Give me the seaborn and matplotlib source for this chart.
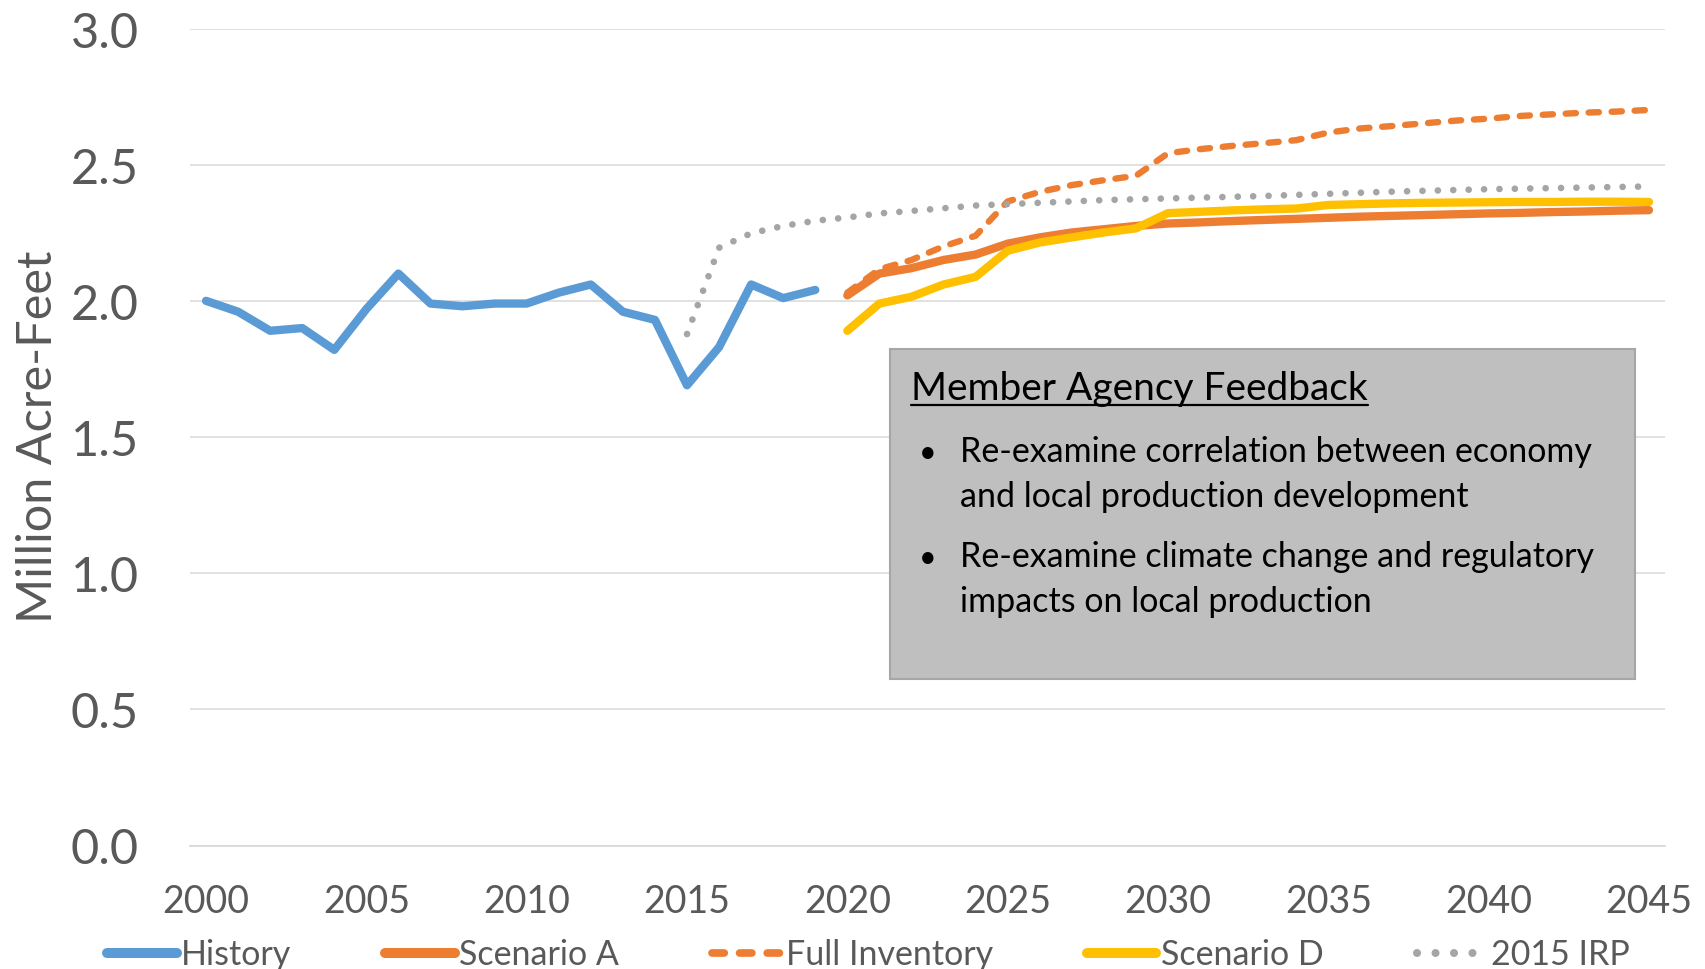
import numpy as np
import pandas as pd
import matplotlib
matplotlib.use("Agg")
import matplotlib.pyplot as plt
import seaborn as sns
from matplotlib.patches import Rectangle
from matplotlib.lines import Line2D
from matplotlib.ticker import FixedLocator, FormatStrFormatter

# --- data (million acre-feet) ---
HIST_YEARS = list(range(2000, 2020))
HISTORY = [2.00, 1.96, 1.89, 1.90, 1.82, 1.97, 2.10, 1.99, 1.98, 1.99,
           1.99, 2.03, 2.06, 1.96, 1.93, 1.69, 1.83, 2.06, 2.01, 2.04]

PROJ_YEARS = list(range(2020, 2046))
SCENARIO_A = [2.02, 2.10, 2.12, 2.15, 2.17, 2.21, 2.233, 2.251, 2.263, 2.275,
              2.284, 2.288, 2.293, 2.297, 2.301, 2.305, 2.309, 2.312, 2.315, 2.318,
              2.321, 2.323, 2.326, 2.328, 2.331, 2.333]
FULL_INVENTORY = [2.03, 2.116, 2.15, 2.20, 2.239, 2.365, 2.40, 2.425, 2.443, 2.459,
                  2.542, 2.557, 2.569, 2.579, 2.59, 2.618, 2.633, 2.642, 2.652, 2.662,
                  2.669, 2.679, 2.685, 2.691, 2.695, 2.701]
SCENARIO_D = [1.89, 1.99, 2.015, 2.06, 2.088, 2.184, 2.214, 2.233, 2.251, 2.266,
              2.322, 2.327, 2.332, 2.336, 2.339, 2.352, 2.355, 2.358, 2.36, 2.361,
              2.362, 2.363, 2.363, 2.364, 2.364, 2.363]

IRP_YEARS = list(range(2015, 2046))
IRP_2015 = [1.878, 2.195, 2.248, 2.275, 2.294, 2.306, 2.321, 2.33, 2.34, 2.35,
            2.355, 2.36, 2.365, 2.37, 2.373, 2.376, 2.379, 2.382, 2.385, 2.389,
            2.393, 2.397, 2.401, 2.404, 2.407, 2.41, 2.412, 2.414, 2.416, 2.418, 2.42]

Y_TICKS = [0.0, 0.5, 1.0, 1.5, 2.0, 2.5, 3.0]
X_TICKS = [2000, 2005, 2010, 2015, 2020, 2025, 2030, 2035, 2040, 2045]

BOX_TITLE = "Member Agency Feedback"
BOX_LINES = [
    "Re-examine correlation between economy",
    "and local production development",
    "Re-examine climate change and regulatory",
    "impacts on local production",
]

TEXT_GRAY = "#595959"
GRID_GRAY = "#D9D9D9"

sns.set_theme(style="white")
plt.rcParams["font.family"] = ["Lato", "DejaVu Sans"]

W, H = 1706, 970
fig = plt.figure(figsize=(W / 100, H / 100), dpi=100)
ax = fig.add_axes([190 / W, 123.5 / H, 1475 / W, 817 / H])

series = [
    ("History", HIST_YEARS, HISTORY, "#5B9BD5", 6.0, "-"),
    ("Scenario A", PROJ_YEARS, SCENARIO_A, "#ED7D31", 6.0, "-"),
    ("Full Inventory", PROJ_YEARS, FULL_INVENTORY, "#ED7D31", 4.6, (0, (1.6, 2.0))),
    ("Scenario D", PROJ_YEARS, SCENARIO_D, "#FFC000", 6.0, "-"),
    ("2015 IRP", IRP_YEARS, IRP_2015, "#A5A5A5", 4.8, (0, (0.01, 2.3))),
]

handles = []
for name, yrs, vals, color, lw, ls in series:
    df = pd.DataFrame({"year": yrs, "value": vals})
    sns.lineplot(data=df, x="year", y="value", ax=ax, color=color, linewidth=lw,
                 linestyle=ls, estimator=None, solid_capstyle="round",
                 dash_capstyle="round", solid_joinstyle="round")
    handles.append(Line2D([0], [0], color=color, lw=lw * 1.2, linestyle=ls,
                          solid_capstyle="round", dash_capstyle="round", label=name))
if ax.get_legend() is not None:
    ax.get_legend().remove()

ax.set_xlim(1999.5, 2045.5)
ax.set_ylim(0, 3.0)
ax.set_yticks(Y_TICKS)
ax.yaxis.set_major_formatter(FormatStrFormatter("%.1f"))
ax.set_xticks(X_TICKS)
ax.set_xticklabels([str(y) for y in X_TICKS])
ax.xaxis.set_minor_locator(FixedLocator(np.arange(1999.5, 2046, 1.0)))

ax.grid(axis="y", color=GRID_GRAY, linewidth=1.1)
ax.grid(axis="x", visible=False)
ax.set_axisbelow(True)
for side in ["top", "right", "left"]:
    ax.spines[side].set_visible(False)
ax.spines["bottom"].set_color(GRID_GRAY)
ax.spines["bottom"].set_linewidth(1.3)

ax.tick_params(axis="y", length=0, pad=37, labelsize=35, labelcolor=TEXT_GRAY)
ax.tick_params(axis="x", which="major", length=0, pad=27, labelsize=27,
               labelcolor=TEXT_GRAY)
ax.tick_params(axis="x", which="minor", length=9.5, width=1.3, color=GRID_GRAY,
               direction="out")

ax.set_xlabel("")
ax.set_ylabel("Million Acre-Feet", fontsize=35, color=TEXT_GRAY)
ax.yaxis.set_label_coords(-0.088, 0.501)

fig.legend(handles=handles, loc="center", bbox_to_anchor=(0.509, 0.015), ncol=5,
           frameon=False, fontsize=24.5, handlelength=2.05, handletextpad=0.12,
           columnspacing=2.75, labelcolor=TEXT_GRAY)

# feedback box
fig.add_artist(Rectangle((890 / W, (H - 680) / H), 745 / W, 330 / H,
                         transform=fig.transFigure, facecolor="#BFBFBF",
                         edgecolor="#A6A6A6", linewidth=1.5, zorder=3))
title = fig.text(911 / W, (H - 400) / H, BOX_TITLE, fontsize=28, color="black",
                 ha="left", va="baseline", zorder=4)
baselines = [461.7, 506.7, 566.7, 611.7]
for i, (txt, yb) in enumerate(zip(BOX_LINES, baselines)):
    fig.text(960 / W, (H - yb) / H, txt, fontsize=24.5, color="black",
             ha="left", va="baseline", zorder=4)
    if i in (0, 2):
        fig.text(919 / W, (H - yb) / H, "\u2022", fontsize=22, color="black",
                 ha="left", va="baseline", zorder=4)

fig.canvas.draw()
bb = title.get_window_extent(fig.canvas.get_renderer())
uy = (H - 406) / H
fig.add_artist(Line2D([bb.x0 / W, bb.x1 / W], [uy, uy], transform=fig.transFigure,
                      color="black", linewidth=1.6, zorder=4))

fig.savefig("out.png", dpi=100)
plt.close(fig)
